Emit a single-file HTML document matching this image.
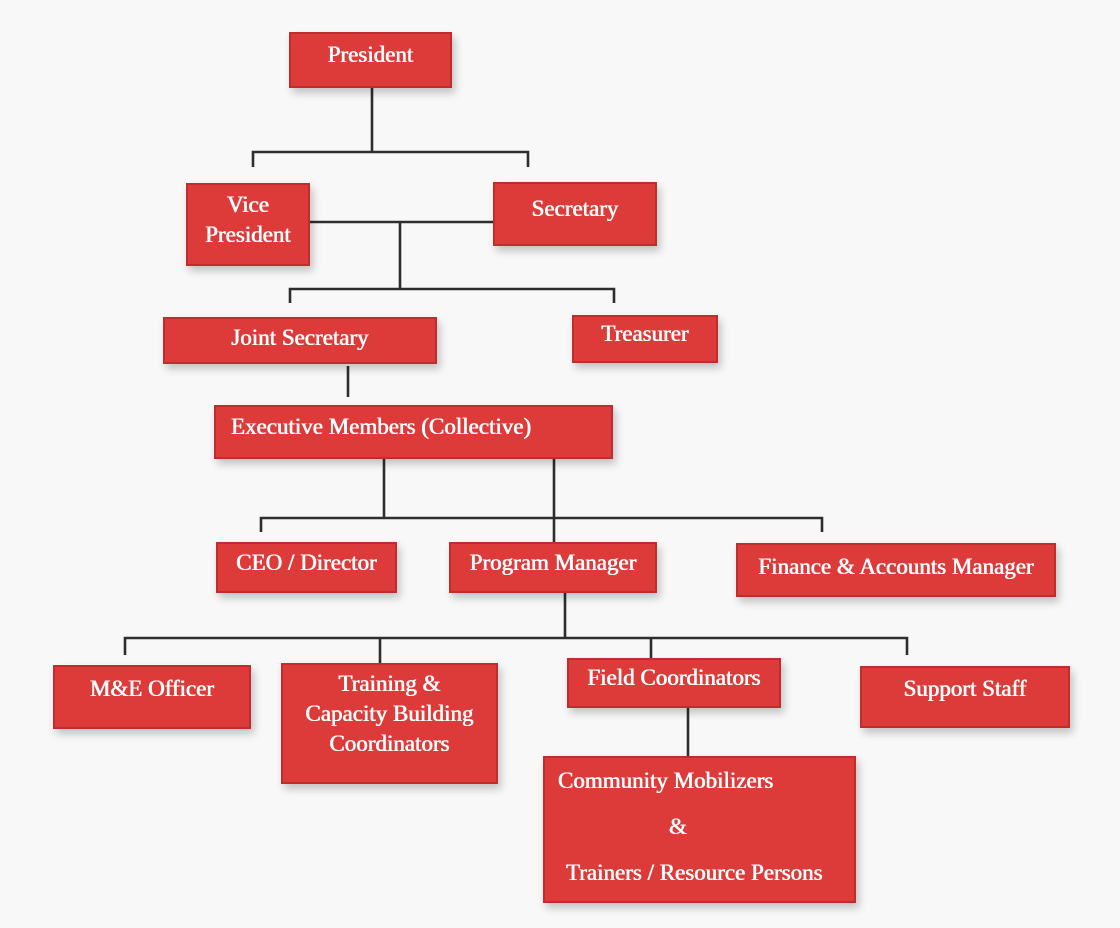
<!DOCTYPE html>
<html><head><style>
html,body{margin:0;padding:0}
body{width:1120px;height:928px;background:#f8f8f8;position:relative;overflow:hidden;font-family:"Liberation Serif",serif}
.b{position:absolute;background:#dc3b3a;border:2px solid #c12c2c;box-sizing:border-box;color:#fff;font-size:23px;text-align:center;box-shadow:3px 5px 8px rgba(0,0,0,0.22);display:flex;align-items:center;justify-content:center;line-height:30px;padding-bottom:10px;text-shadow:0.4px 0 0 #fff,-0.3px 0 0 #fff}
svg{position:absolute;left:0;top:0}
</style></head><body>
<svg width="1120" height="928" stroke="#2e2e2e" stroke-width="2.6" fill="none">
<path d="M372 87V152M253 167V152H528V167"/>
<path d="M310 222H493M400 222V289M290 303V289H614V303"/>
<path d="M348 366V397"/>
<path d="M384 458V518M554 458V542M261 532V518H822V532"/>
<path d="M565 592V638M125 655V638H907V655M380 638V663M651 638V658"/>
<path d="M688 707V756"/>
</svg>
<div class="b" style="left:289px;top:32px;width:163px;height:56px">President</div>
<div class="b" style="left:186px;top:183px;width:124px;height:83px">Vice<br>President</div>
<div class="b" style="left:493px;top:182px;width:164px;height:64px">Secretary</div>
<div class="b" style="left:163px;top:317px;width:274px;height:47px;padding-bottom:6px">Joint Secretary</div>
<div class="b" style="left:572px;top:315px;width:146px;height:48px">Treasurer</div>
<div class="b" style="left:214px;top:405px;width:399px;height:54px;justify-content:flex-start;padding-left:15px">Executive Members (Collective)</div>
<div class="b" style="left:216px;top:542px;width:181px;height:51px">CEO / Director</div>
<div class="b" style="left:449px;top:542px;width:208px;height:51px">Program Manager</div>
<div class="b" style="left:736px;top:543px;width:320px;height:54px;padding-bottom:6px">Finance &amp; Accounts Manager</div>
<div class="b" style="left:53px;top:665px;width:198px;height:64px;padding-bottom:16px">M&amp;E Officer</div>
<div class="b" style="left:281px;top:663px;width:217px;height:121px;padding-bottom:20px">Training &amp;<br>Capacity Building<br>Coordinators</div>
<div class="b" style="left:567px;top:658px;width:214px;height:50px">Field Coordinators</div>
<div class="b" style="left:860px;top:666px;width:210px;height:62px;padding-bottom:16px">Support Staff</div>
<div class="b" style="left:543px;top:756px;width:313px;height:147px;display:block;padding:0;line-height:46px;text-align:left"><div style="padding-left:13px">Community Mobilizers</div><div style="padding-left:124px">&amp;</div><div style="padding-left:21px">Trainers / Resource Persons</div></div>
</body></html>
